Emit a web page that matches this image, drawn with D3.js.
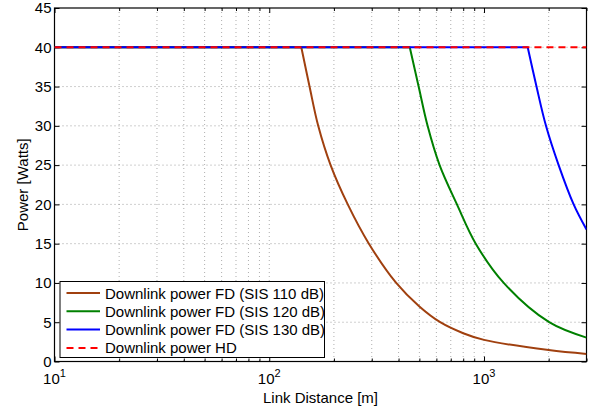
<!DOCTYPE html>
<html>
<head>
<meta charset="utf-8">
<script src="https://cdn.jsdelivr.net/npm/d3@7"></script>
<style>
  html, body { margin: 0; padding: 0; background: #fff; }
  svg { display: block; }
  text { font-family: "Liberation Sans", Arial, Helvetica, sans-serif; fill: #000; }
</style>
</head>
<body>
<svg id="chart" width="595" height="412"></svg>
<script>
// ---- data ----
const seriesNames = [
  "Downlink power FD (SIS 110 dB)",
  "Downlink power FD (SIS 120 dB)",
  "Downlink power FD (SIS 130 dB)",
  "Downlink power HD"
];
const fd110Dist  = [10, 141, 154, 169, 193, 232, 291, 390, 500, 625, 800, 1000, 2000, 3000];
const fd110Power = [40, 40,  35,  30,  25,  20,  15,  10,  7.0, 5,   3.6, 2.75, 1.45, 0.96];
const fd120Dist  = [10, 451, 496, 546, 621, 748, 915, 1235, 2010, 3000];
const fd120Power = [40, 40,  35,  30,  25,  20,  15,  10,   5,    3.04];
const fd130Dist  = [10, 1597, 1755, 1943, 2225, 2614, 3000];
const fd130Power = [40, 40,   35,   30,   25,   20,   16.8];
const hdDist  = [10, 3000];
const hdPower = [40, 40];
const yTicks = [0, 5, 10, 15, 20, 25, 30, 35, 40, 45];
const xMajorTicks = [10, 100, 1000];
const xLabelExp = ["1", "2", "3"];
const colors = ["#a0400f", "#008000", "#0000ff", "#ff0000"];

// ---- layout ----
const svg = d3.select("#chart");
const L = 54.5, R = 586.5, T = 8, B = 361.5;
const FS = 15;
const x = d3.scaleLog().domain([10, 3000]).range([L, R]);
const y = d3.scaleLinear().domain([0, 45]).range([B, T]);

// minor x positions
const xMinor = [];
for (let dec = 10; dec <= 1000; dec *= 10) {
  for (let k = 2; k <= 9; k++) { const v = dec * k; if (v <= 3000) xMinor.push(v); }
}

// grid
const grid = svg.append("g");
xMinor.concat(xMajorTicks.slice(1)).forEach(v => {
  grid.append("line").attr("x1", x(v)).attr("x2", x(v)).attr("y1", T).attr("y2", B)
    .attr("stroke", "#999").attr("stroke-width", 0.8).attr("stroke-dasharray", "1,3");
});
yTicks.slice(1, -1).forEach(v => {
  grid.append("line").attr("x1", L).attr("x2", R).attr("y1", y(v)).attr("y2", y(v))
    .attr("stroke", "#888").attr("stroke-width", 0.8).attr("stroke-dasharray", "1,3");
});

// axes (inward ticks, MATLAB style)
const tick = 5, mtick = 3;
const axisG = svg.append("g");
const yAxisL = d3.axisLeft(y).tickValues(yTicks).tickSize(-tick).tickPadding(3).tickFormat(d3.format("d"));
const yAxisR = d3.axisRight(y).tickValues(yTicks).tickSize(-tick).tickFormat("");
const xAxisB = d3.axisBottom(x).tickValues(xMajorTicks).tickSize(-tick).tickFormat("");
const xAxisT = d3.axisTop(x).tickValues(xMajorTicks).tickSize(-tick).tickFormat("");
const xMinB = d3.axisBottom(x).tickValues(xMinor).tickSize(-mtick).tickFormat("");
const xMinT = d3.axisTop(x).tickValues(xMinor).tickSize(-mtick).tickFormat("");
[[yAxisL, `translate(${L},0)`], [yAxisR, `translate(${R},0)`],
 [xAxisB, `translate(0,${B})`], [xAxisT, `translate(0,${T})`],
 [xMinB, `translate(0,${B})`], [xMinT, `translate(0,${T})`]].forEach(([ax, tr]) => {
  const g = axisG.append("g").attr("transform", tr).call(ax);
  g.select(".domain").remove();
  g.selectAll("line").attr("stroke", "#000").attr("stroke-width", 1);
  g.selectAll("text").attr("font-size", FS).attr("font-family", "Liberation Sans, Arial, sans-serif").attr("fill", "#000");
});

// x tick labels 10^n
xMajorTicks.forEach((v, i) => {
  const t = svg.append("text").attr("x", x(v)).attr("y", B + 22.5)
    .attr("text-anchor", "middle").attr("font-size", FS);
  t.append("tspan").text("10");
  t.append("tspan").attr("dy", -7).attr("font-size", 11).text(xLabelExp[i]);
});

// frame
svg.append("rect").attr("x", L).attr("y", T).attr("width", R - L).attr("height", B - T)
  .attr("fill", "none").attr("stroke", "#000").attr("stroke-width", 1.2);

// axis titles
svg.append("text").attr("x", (L + R) / 2).attr("y", 403).attr("text-anchor", "middle")
  .attr("font-size", FS).text("Link Distance [m]");
svg.append("text").attr("transform", `translate(28,${(T + B) / 2}) rotate(-90)`)
  .attr("text-anchor", "middle").attr("font-size", FS).text("Power [Watts]");

// lines: flat part straight, decaying part as a smooth curve through the read points
const flat = d3.line().x(d => x(d[0])).y(d => y(d[1]));
const smooth = d3.line().x(d => x(d[0])).y(d => y(d[1])).curve(d3.curveCatmullRom.alpha(0.5));
const series = [
  d3.zip(fd110Dist, fd110Power),
  d3.zip(fd120Dist, fd120Power),
  d3.zip(fd130Dist, fd130Power),
  d3.zip(hdDist, hdPower)
];
const clip = svg.append("clipPath").attr("id", "clip").append("rect")
  .attr("x", L).attr("y", T - 2).attr("width", R - L).attr("height", B - T + 4);
const lg = svg.append("g").attr("clip-path", "url(#clip)");
series.forEach((s, i) => {
  let brk = 0;
  while (brk + 1 < s.length && s[brk + 1][1] === s[0][1]) brk++;
  const head = s.slice(0, brk + 1);
  const tail = s.slice(brk);
  let d = flat(head);
  if (tail.length > 1) d += smooth(tail).replace(/^M[^A-Za-z]*/, "L" + x(tail[0][0]) + "," + y(tail[0][1]));
  lg.append("path").attr("d", d).attr("fill", "none")
    .attr("stroke", colors[i]).attr("stroke-width", 2).attr("stroke-linejoin", "round")
    .attr("stroke-dasharray", i === 3 ? "7,5" : null);
});

// legend
const lgX = 60, lgY = 281.5, lgW = 264.5, lgH = 76;
const leg = svg.append("g");
leg.append("rect").attr("x", lgX).attr("y", lgY).attr("width", lgW).attr("height", lgH)
  .attr("fill", "#fff").attr("stroke", "#000").attr("stroke-width", 1);
seriesNames.forEach((name, i) => {
  const yy = lgY + 11.5 + i * 18.3;
  leg.append("line").attr("x1", lgX + 6.5).attr("x2", lgX + 40).attr("y1", yy).attr("y2", yy)
    .attr("stroke", colors[i]).attr("stroke-width", 2)
    .attr("stroke-dasharray", i === 3 ? "7,5" : null);
  leg.append("text").attr("x", lgX + 45).attr("y", yy + 5.5).attr("font-size", FS).text(name);
});
</script>
</body>
</html>
